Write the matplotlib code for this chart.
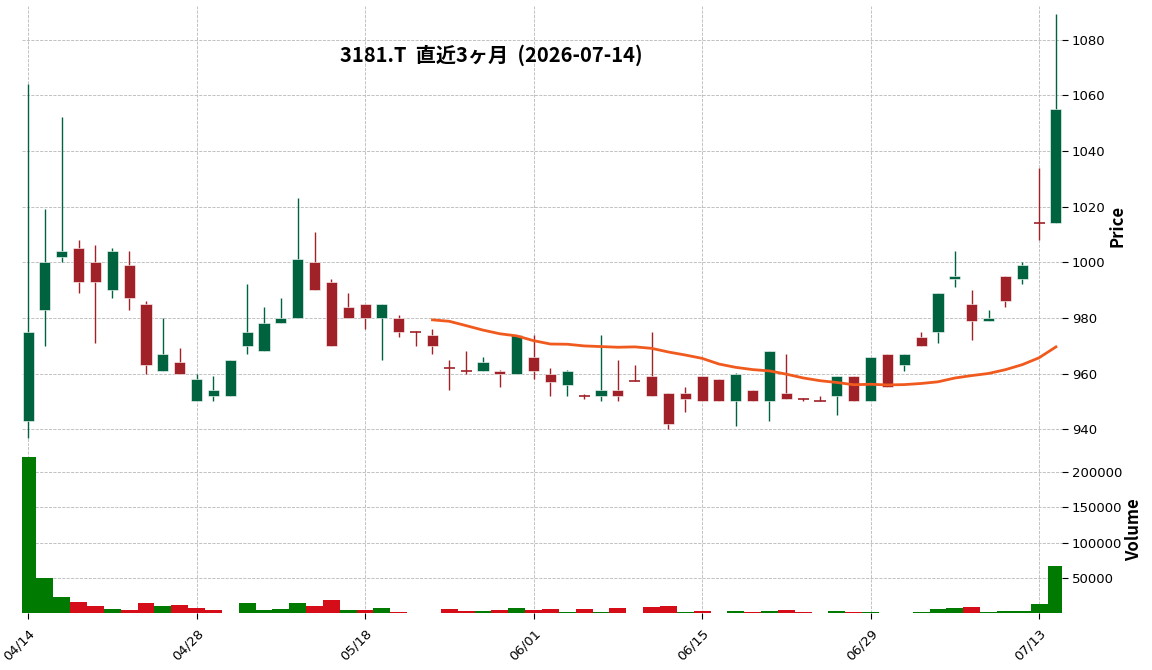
import numpy as np
import pandas as pd
import matplotlib
matplotlib.use("Agg")
import matplotlib.pyplot as plt
from matplotlib.patches import Rectangle

# ---------------- data ----------------
dates = ["04/14", "04/15", "04/16", "04/17", "04/20", "04/21", "04/22", "04/23", "04/24", "04/27",
         "04/28", "04/30", "05/01", "05/07", "05/08", "05/11", "05/12", "05/13", "05/14", "05/15",
         "05/18", "05/19", "05/20", "05/21", "05/22", "05/25", "05/26", "05/27", "05/28", "05/29",
         "06/01", "06/02", "06/03", "06/04", "06/05", "06/08", "06/09", "06/10", "06/11", "06/12",
         "06/15", "06/16", "06/17", "06/18", "06/19", "06/22", "06/23", "06/24", "06/25", "06/26",
         "06/29", "06/30", "07/01", "07/02", "07/03", "07/06", "07/07", "07/08", "07/09", "07/10",
         "07/13", "07/14"]

opens = [943, 983, 1002, 1005, 1000, 990, 999, 985, 961, 964,
         950, 952, 952, 970, 968, 978, 980, 1000, 993, 984,
         985, 980, 980, 975, 974, 962, 961, 961, 961, 960,
         966, 960, 956, 952, 952, 954, 957.3, 959, 953, 953,
         959, 958, 950, 954, 950, 953, 951, 950.2, 952, 959,
         950, 967, 963, 973, 975, 994, 985, 979, 995, 994,
         1014, 1014]
highs = [1064, 1019, 1052, 1008, 1006, 1005, 1004, 986, 980, 969,
         960, 959, 965, 992, 984, 987, 1023, 1011, 994, 989,
         985, 985, 981, 975.3, 976, 965, 968, 966, 961.3, 974,
         974, 962, 961.3, 952.8, 974, 965, 963, 975, 953, 955,
         959, 958, 960.2, 954, 968, 967, 951.2, 952, 959, 959,
         966, 967, 967, 975, 989, 1004, 990, 983, 995, 1000,
         1034, 1089]
lows = [937, 970, 1000, 989, 971, 987, 983, 960, 961, 960,
        950, 950, 952, 967, 968, 978, 980, 990, 970, 980,
        976, 965, 973, 970, 967, 954, 960, 961, 955, 960,
        958, 952, 952, 951, 950, 950, 957.3, 952, 940, 946,
        950, 950, 941, 950, 943, 951, 950.2, 950.2, 945, 950,
        950, 955, 961, 970, 971, 991, 972, 979, 984, 992,
        1008, 1014]
closes = [975, 1000, 1004, 993, 993, 1004, 987, 963, 967, 960,
          958, 954, 965, 975, 978, 980, 1001, 990, 970, 980,
          980, 985, 975, 975, 970, 962, 961, 964, 960, 974,
          961, 957, 961, 952, 954, 952, 957.3, 952, 942, 951,
          950, 950, 960, 950, 968, 951, 951, 950.2, 959, 950,
          966, 955, 967, 970, 989, 995, 979, 980, 986, 999,
          1014, 1055]
volumes = [220600, 50500, 23800, 16800, 11200, 7000, 5600, 15400, 11200, 12600,
           8400, 5600, np.nan, 15400, 5600, 7000, 15400, 11200, 19600, 5600,
           5600, 8400, 2800, np.nan, np.nan, 7000, 4200, 4200, 5600, 8400,
           5600, 7000, 2800, 7000, 2800, 8400, np.nan, 9800, 11200, 2800,
           4200, np.nan, 4200, 2800, 4200, 5600, 2800, np.nan, 4200, 2800,
           2800, np.nan, np.nan, 2800, 7000, 8400, 9800, 2800, 4200, 4200,
           14000, 67300]
tick_idx = [0, 10, 20, 30, 40, 50, 60]
title = "3181.T  直近3ヶ月  (2026-07-14)"
mav_window = 25

# ---------------- style ----------------
UP, DOWN = "#006340", "#a02128"
VUP, VDOWN = "#007a00", "#d50d18"
MA_COLOR = "#f05a1e"
GRID = dict(color="#b8b8b8", linestyle="--", linewidth=0.6)

o = np.array(opens, float); h = np.array(highs, float)
l = np.array(lows, float); c = np.array(closes, float)
v = np.array(volumes, float)
n = len(c)
x = np.arange(n)
ma = pd.Series(c).rolling(mav_window).mean().values

fig = plt.figure(figsize=(11.52, 6.70), dpi=100)
L, R = 22 / 1152, 1062 / 1152
ax = fig.add_axes([L, 1 - 446 / 670, R - L, (446 - 6) / 670])
axv = fig.add_axes([L, 1 - 613 / 670, R - L, (613 - 446) / 670], sharex=ax)

body_w = 0.66
for i in range(n):
    col = UP if c[i] > o[i] else DOWN
    ax.vlines(x[i], l[i], h[i], color=col, linewidth=1.0, zorder=2)
    bot = min(o[i], c[i]); ht = abs(c[i] - o[i])
    if ht < 0.25:
        ax.hlines(c[i], x[i] - body_w / 2, x[i] + body_w / 2, color=col, linewidth=1.2, zorder=3)
    else:
        ax.add_patch(Rectangle((x[i] - body_w / 2, bot), body_w, ht, facecolor=col,
                               edgecolor="white", linewidth=0.4, zorder=3))
ax.plot(x, ma, color=MA_COLOR, linewidth=2.0, zorder=4)

vcol = [VUP if o[0] < c[0] else VDOWN] + [VUP if c[i] > c[i - 1] else VDOWN for i in range(1, n)]
axv.bar(x, np.nan_to_num(v), width=1.0, color=vcol, zorder=2)

dl = h.max() - l.min()
ax.set_ylim(l.min() - 0.02 * dl, h.max() + 0.02 * dl)
axv.set_ylim(0.3 * np.nanmin(v), 1.07 * np.nanmax(v))
ax.set_xlim(-0.36, n - 1 + 0.36)

for a in (ax, axv):
    for s in a.spines.values():
        s.set_visible(False)
    a.yaxis.tick_right()
    a.yaxis.set_label_position("right")
    a.grid(True, **GRID)
    a.set_axisbelow(True)
    a.tick_params(axis="y", labelsize=9.5, length=4, color="black", pad=3)

ax.set_yticks(np.arange(940, 1081, 20))
axv.set_yticks([50000, 100000, 150000, 200000])
axv.yaxis.set_major_formatter(matplotlib.ticker.FuncFormatter(lambda val, p: f"{int(val)}"))

ax.set_xticks(tick_idx)
ax.tick_params(axis="x", labelbottom=False, length=0)
axv.set_xticks(tick_idx)
axv.set_xticklabels([dates[i] for i in tick_idx], rotation=45, ha="right", rotation_mode="anchor", fontsize=9.5)
axv.tick_params(axis="x", length=4, color="black", pad=6)

lab_font = ["Noto Sans CJK JP", "DejaVu Sans"]
ax.set_ylabel("Price", fontsize=12, fontweight="bold", family=lab_font, labelpad=2)
axv.set_ylabel("Volume", fontsize=12, fontweight="bold", family=lab_font, labelpad=2)

fig.text(491 / 1152, 1 - 55 / 670, title, ha="center", va="center", fontsize=14.5,
         fontweight="bold", family=lab_font)

fig.savefig("out.png", dpi=100)
